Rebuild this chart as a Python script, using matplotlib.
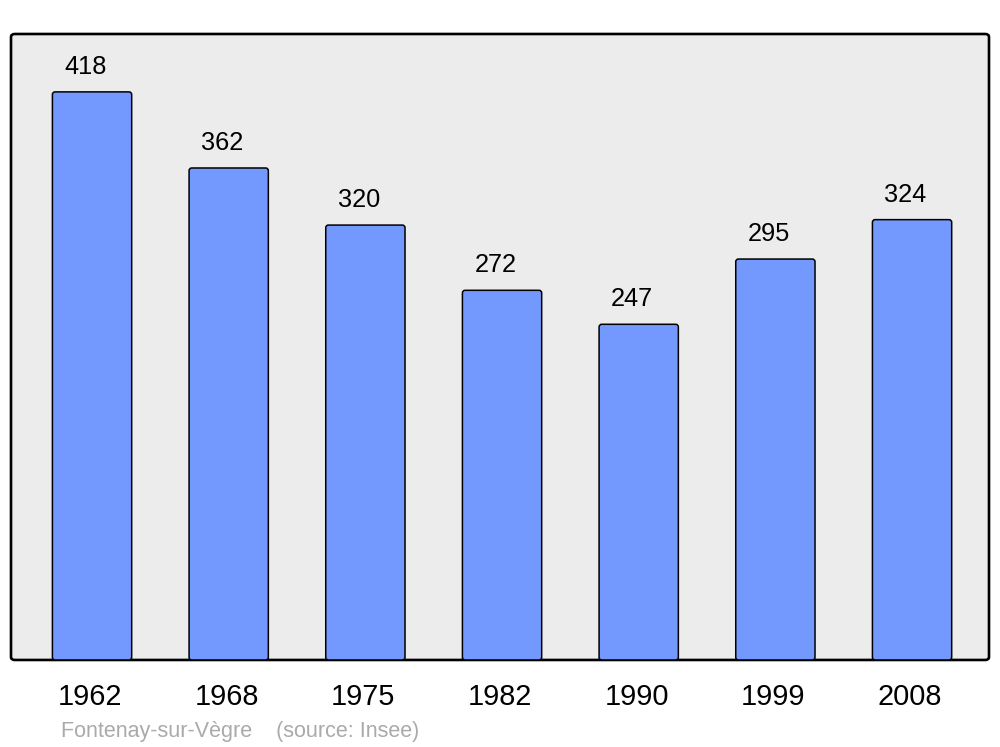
import matplotlib
matplotlib.use("Agg")
import matplotlib.pyplot as plt
import matplotlib.transforms as mtransforms
from matplotlib.patches import FancyBboxPatch

years = ["1962", "1968", "1975", "1982", "1990", "1999", "2008"]
population = [418, 362, 320, 272, 247, 295, 324]
source_text = "Fontenay-sur-Vègre    (source: Insee)"

plt.rcParams['font.family'] = ['Liberation Sans', 'DejaVu Sans']

fig = plt.figure(figsize=(10, 7.47), dpi=100)
ax = fig.add_axes([0.011, 0.1165, 0.978, 0.838])
ax.patch.set_visible(False)
for s in ax.spines.values():
    s.set_visible(False)

frame = FancyBboxPatch((0, 0), 1, 1, boxstyle="round,pad=0,rounding_size=0.004",
                       transform=ax.transAxes, facecolor="#ececec", edgecolor="black",
                       linewidth=1.9, zorder=0, clip_on=False, mutation_aspect=1.2)
ax.add_patch(frame)

x = list(range(len(years)))
ax.set_xlim(-0.593, 6.563)
ax.set_ylim(0, 460.6)

bars = ax.bar(x, population, width=0.58, color="#7399ff", edgecolor="black",
              linewidth=1.1, zorder=2)
# rounded-corner versions of the bars, built from the bar geometry
for b in bars:
    b.set_visible(False)
    rb = FancyBboxPatch((b.get_x(), b.get_y()), b.get_width(), b.get_height(),
                        boxstyle="round,pad=0,rounding_size=0.02",
                        mutation_aspect=100, facecolor="#7399ff",
                        edgecolor="black", linewidth=1.1, zorder=2)
    ax.add_patch(rb)

for xi, v in zip(x, population):
    ax.annotate(str(v), (xi, v), xytext=(-4.8, 13), textcoords="offset points",
                ha="center", va="baseline", fontsize=18.3, color="black")

ax.set_xticks(x)
ax.set_xticklabels(years, fontsize=20.8)
ax.set_yticks([])
ax.tick_params(axis="x", length=0, pad=16.5)
shift = mtransforms.ScaledTranslation(-2 / 100, 0, fig.dpi_scale_trans)
for lbl in ax.get_xticklabels():
    lbl.set_transform(lbl.get_transform() + shift)

fig.text(0.061, (747 - 737) / 747, source_text, fontsize=15.5, color="#aaaaaa",
         ha="left", va="baseline")

fig.savefig("out.png", dpi=100, facecolor="white")
